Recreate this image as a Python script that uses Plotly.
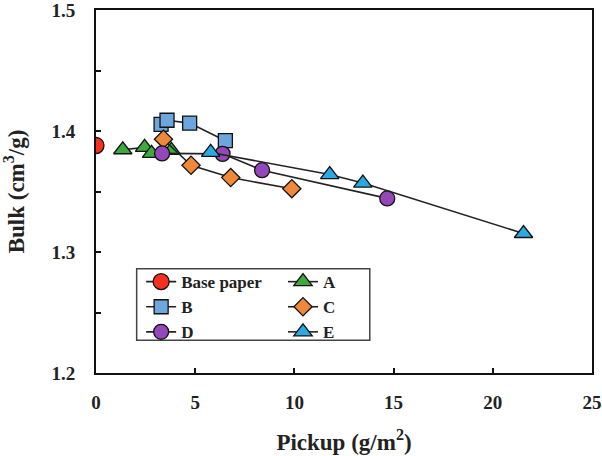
import plotly.graph_objects as go

# Data
base_x = [0.0]
base_y = [1.388]
a_x = [1.35, 2.45, 2.8, 3.8]
a_y = [1.3845, 1.3865, 1.3815, 1.384]
b_x = [3.28, 3.58, 4.72, 6.52]
b_y = [1.4055, 1.4089, 1.4065, 1.392]
c_x = [3.4, 4.79, 6.79, 9.87]
c_y = [1.3932, 1.3717, 1.3615, 1.3523]
d_x = [3.33, 6.38, 8.37, 14.68]
d_y = [1.3815, 1.3811, 1.3676, 1.3443]
e_x = [5.78, 11.78, 13.45, 21.55]
e_y = [1.3823, 1.364, 1.357, 1.3153]

x_ticks = [0, 5, 10, 15, 20, 25]
y_ticks = [1.2, 1.3, 1.4, 1.5]
y_tick_text = ["1.2", "1.3", "1.4", "1.5"]

FONT = "Liberation Serif"
LINE = dict(color="#222222", width=1.6)
MLINE = dict(color="#111111", width=1.3)

fig = go.Figure()

def add(name, x, y, symbol, color, size, legend, mode="lines+markers"):
    fig.add_trace(go.Scatter(
        x=x, y=y, name=name, mode=mode, line=LINE,
        marker=dict(symbol=symbol, color=color, size=size, line=MLINE),
        legend=legend, showlegend=True,
    ))

add("Base paper", base_x, base_y, "circle", "#F5301E", 16, "legend")
add("A", a_x, a_y, "triangle-up", "#3DAA3D", 16, "legend2")
add("B", b_x, b_y, "square", "#6CA6DC", 14, "legend")
add("C", c_x, c_y, "diamond", "#F0883A", 14, "legend2")
add("D", d_x, d_y, "circle", "#9447B8", 15, "legend")
add("E", e_x, e_y, "triangle-up", "#2AAAE2", 16, "legend2")

legend_common = dict(
    font=dict(family=FONT, size=17, color="#222222", weight="bold"),
    bgcolor="rgba(0,0,0,0)", borderwidth=0, yanchor="top", xanchor="left",
    itemwidth=30, tracegroupgap=0,
)

fig.update_layout(
    width=602, height=456,
    margin=dict(l=96, r=10, t=10, b=83, autoexpand=False),
    plot_bgcolor="white", paper_bgcolor="white",
    showlegend=True,
    legend=dict(x=0.091, y=0.30, **legend_common),
    legend2=dict(x=0.377, y=0.30, **legend_common),
    shapes=[dict(type="rect", xref="paper", yref="paper",
                 x0=0.082, x1=0.552, y0=0.09, y1=0.287,
                 line=dict(color="#444444", width=1.5), fillcolor="rgba(0,0,0,0)")],
)

fig.update_xaxes(
    range=[0, 25], tickvals=x_ticks, automargin=False,
    showline=True, linecolor="#111111", linewidth=2, mirror=True,
    ticks="inside", ticklen=5, tickwidth=1.5, tickcolor="#111111",
    showgrid=False, zeroline=False, ticklabeloverflow="allow",
    tickfont=dict(family=FONT, size=19, color="#222222", weight="bold"),
    title=dict(text="Pickup (g/m<sup>2</sup>)", standoff=22,
               font=dict(family=FONT, size=23, color="#222222", weight="bold")),
    ticklabelstandoff=11,
)
fig.update_yaxes(
    range=[1.2, 1.5], tickvals=y_ticks, ticktext=y_tick_text, automargin=False,
    showline=True, linecolor="#111111", linewidth=2, mirror=True,
    ticks="inside", ticklen=5, tickwidth=1.5, tickcolor="#111111",
    minor=dict(dtick=0.05, ticks="inside", ticklen=5, tickwidth=1.5, tickcolor="#111111"),
    showgrid=False, zeroline=False, ticklabeloverflow="allow",
    tickfont=dict(family=FONT, size=19, color="#222222", weight="bold"),
    title=dict(text="Bulk (cm<sup>3</sup>/g)", standoff=22,
               font=dict(family=FONT, size=23, color="#222222", weight="bold")),
    ticklabelstandoff=15,
)

fig.write_html("out.html")
